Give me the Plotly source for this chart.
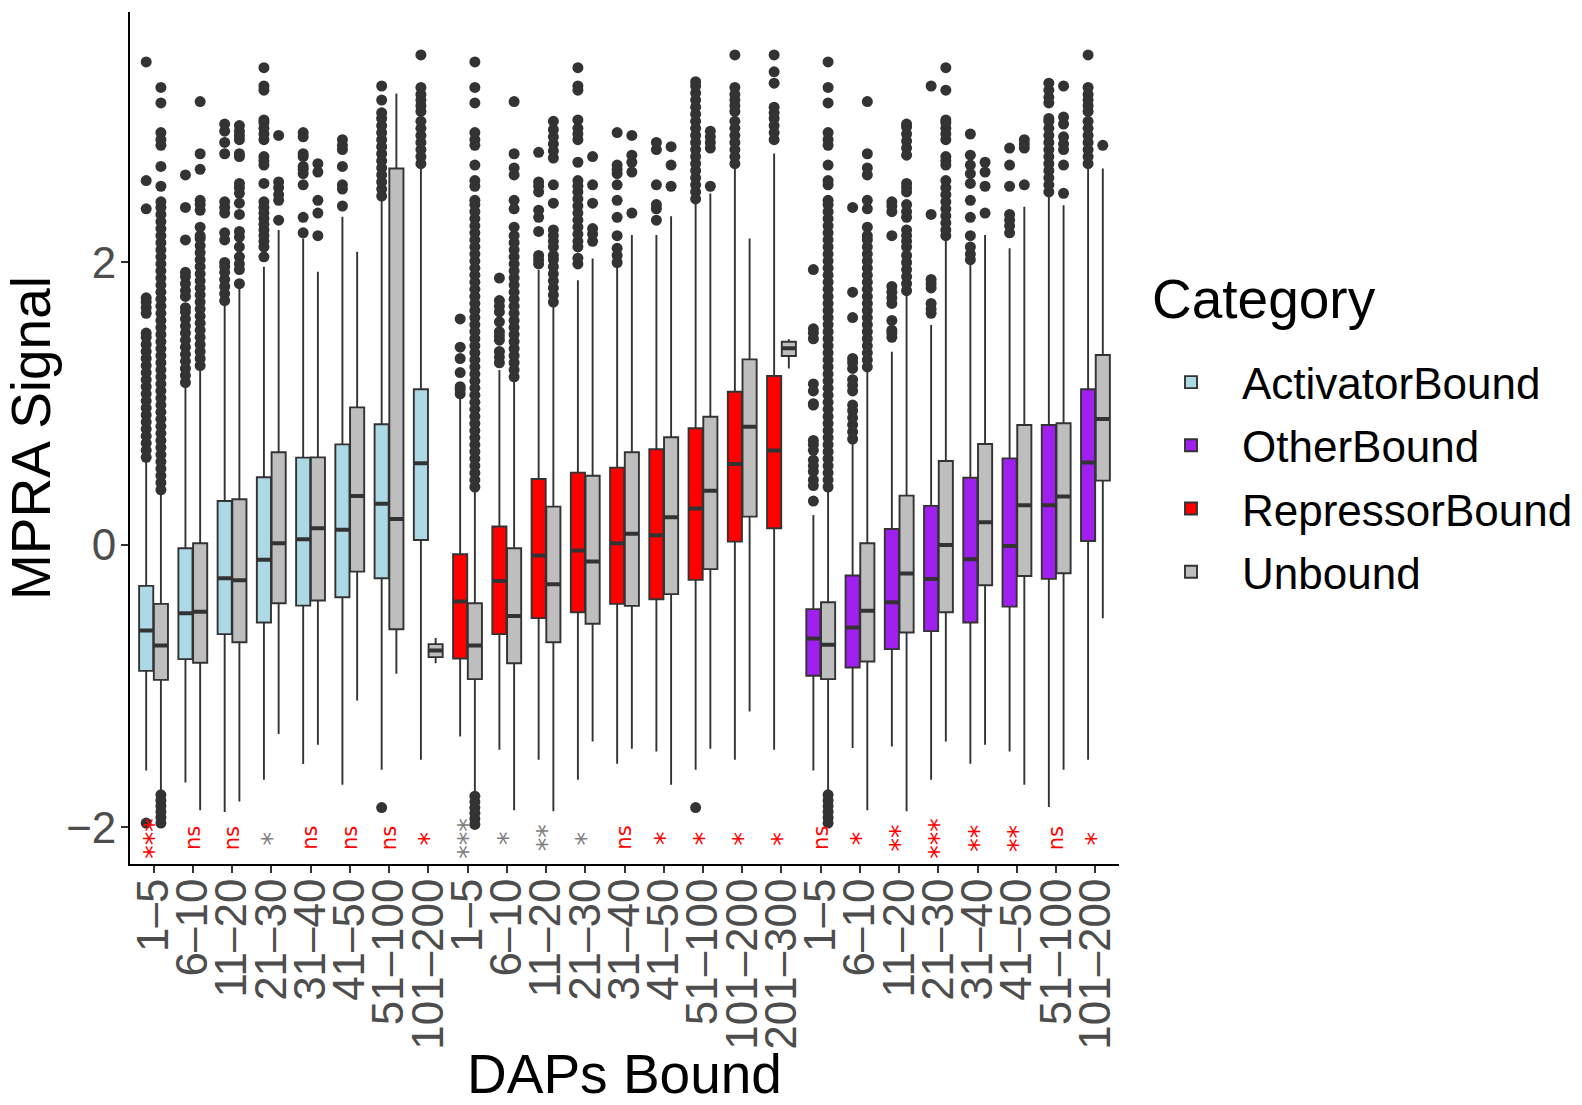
import plotly.graph_objects as go

# ---- categories -------------------------------------------------------------
bins_act = ["1–5", "6–10", "11–20", "21–30", "31–40", "41–50", "51–100", "101–200"]
bins_rep = ["1–5", "6–10", "11–20", "21–30", "31–40", "41–50", "51–100", "101–200", "201–300"]
bins_oth = ["1–5", "6–10", "11–20", "21–30", "31–40", "41–50", "51–100", "101–200"]
tick_labels = bins_act + bins_rep + bins_oth

# ---- box statistics: bound sets --------------------------------------------
act_q1 = [-0.892, -0.809, -0.632, -0.550, -0.430, -0.371, -0.236, 0.035]
act_med = [-0.606, -0.484, -0.236, -0.106, 0.040, 0.108, 0.292, 0.578]
act_q3 = [-0.290, -0.024, 0.311, 0.479, 0.618, 0.712, 0.854, 1.102]
act_lo = [-1.597, -1.682, -1.892, -1.663, -1.552, -1.699, -1.592, -1.522]
act_hi = [0.590, 1.130, 1.710, 1.970, 2.170, 2.324, 2.453, 2.677]

rep_q1 = [-0.805, -0.632, -0.519, -0.477, -0.418, -0.385, -0.248, 0.023, 0.118]
rep_med = [-0.401, -0.255, -0.076, -0.040, 0.012, 0.068, 0.257, 0.573, 0.668]
rep_q3 = [-0.066, 0.130, 0.467, 0.512, 0.547, 0.677, 0.826, 1.085, 1.196]
rep_lo = [-1.357, -1.451, -1.522, -1.663, -1.550, -1.463, -1.592, -1.522, -1.451]
rep_hi = [1.050, 1.239, 1.946, 1.875, 1.993, 2.194, 2.430, 2.677, 2.772]

oth_q1 = [-0.927, -0.868, -0.738, -0.611, -0.550, -0.437, -0.241, 0.028]
oth_med = [-0.663, -0.585, -0.406, -0.241, -0.102, -0.007, 0.281, 0.583]
oth_q3 = [-0.455, -0.217, 0.113, 0.276, 0.476, 0.613, 0.849, 1.102]
oth_lo = [-1.597, -1.439, -1.427, -1.663, -1.550, -1.463, -1.857, -1.522]
oth_hi = [0.212, 0.743, 1.368, 1.557, 2.005, 2.100, 2.477, 2.677]

# ---- box statistics: unbound comparison (one per bin, all 25 bins) ----------
unb_q1 = [-0.956, -0.835, -0.689, -0.413, -0.394, -0.189, -0.597, -0.795,
          -0.951, -0.838, -0.689, -0.559, -0.432, -0.349, -0.172, 0.200, 1.338,
          -0.951, -0.826, -0.621, -0.477, -0.286, -0.220, -0.201, 0.455]
unb_med = [-0.713, -0.474, -0.250, 0.012, 0.118, 0.347, 0.184, -0.748,
           -0.713, -0.503, -0.278, -0.118, 0.078, 0.196, 0.384, 0.837, 1.392,
           -0.708, -0.467, -0.203, 0.000, 0.160, 0.281, 0.342, 0.892]
unb_q3 = [-0.418, 0.012, 0.323, 0.656, 0.620, 0.974, 2.666, -0.703,
          -0.413, -0.024, 0.271, 0.490, 0.656, 0.762, 0.908, 1.314, 1.439,
          -0.406, 0.012, 0.349, 0.594, 0.715, 0.849, 0.861, 1.345]
unb_lo = [-1.746, -1.880, -1.817, -1.340, -1.416, -1.102, -0.913, -0.838,
          -1.757, -1.880, -1.887, -1.392, -1.444, -1.699, -1.444, -1.180, 1.250,
          -1.746, -1.880, -1.887, -1.392, -1.416, -1.699, -1.592, -0.519]
unb_hi = [0.366, 1.250, 1.852, 2.230, 1.935, 2.076, 3.196, -0.660,
          0.389, 1.168, 1.698, 2.029, 2.194, 2.328, 2.489, 2.170, 1.456,
          0.394, 1.239, 1.781, 2.182, 2.194, 2.394, 2.406, 2.666]

# ---- outliers (per bin) -----------------------------------------------------
act_out = [
    [-1.97, 0.62, 0.67, 0.72, 0.77, 0.82, 0.87, 0.92, 0.97, 1.02, 1.07, 1.12, 1.17,
     1.22, 1.27, 1.32, 1.37, 1.42, 1.47, 1.50, 1.64, 1.68, 1.72, 1.75, 2.38, 2.58, 3.42],
    [1.15, 1.20, 1.25, 1.30, 1.35, 1.40, 1.45, 1.50, 1.55, 1.60, 1.65, 1.68, 1.76,
     1.80, 1.85, 1.90, 1.93, 2.16, 2.39, 2.62],
    [1.73, 1.78, 1.83, 1.88, 1.93, 1.97, 2.00, 2.16, 2.21, 2.35, 2.39, 2.43, 2.77,
     2.85, 2.93, 2.98],
    [2.04, 2.11, 2.15, 2.19, 2.23, 2.27, 2.31, 2.35, 2.39, 2.43, 2.56, 2.69, 2.72,
     2.75, 2.87, 2.91, 2.95, 2.99, 3.01, 3.22, 3.25, 3.38],
    [2.21, 2.32, 2.55, 2.63, 2.66, 2.68, 2.75, 2.77, 2.89, 2.92],
    [2.40, 2.52, 2.55, 2.68, 2.80, 2.83, 2.87],
    [-1.86, 2.47, 2.52, 2.57, 2.62, 2.67, 2.72, 2.77, 2.82, 2.87, 2.92, 2.97, 3.02,
     3.06, 3.15, 3.25],
    [2.70, 2.75, 2.80, 2.85, 2.90, 2.95, 3.00, 3.07, 3.11, 3.15, 3.19, 3.24, 3.47],
]
rep_out = [
    [1.07, 1.10, 1.12, 1.22, 1.32, 1.40, 1.60],
    [1.29, 1.33, 1.37, 1.45, 1.48, 1.51, 1.58, 1.65, 1.69, 1.73, 1.89],
    [1.99, 2.02, 2.05, 2.22, 2.32, 2.37, 2.50, 2.54, 2.57, 2.78],
    [1.99, 2.03, 2.11, 2.15, 2.20, 2.25, 2.30, 2.35, 2.40, 2.45, 2.50, 2.54, 2.58,
     2.71, 2.87, 2.91, 2.95, 3.01, 3.22, 3.25, 3.38],
    [2.00, 2.05, 2.10, 2.19, 2.32, 2.44, 2.55, 2.63, 2.66, 2.69, 2.92],
    [2.30, 2.38, 2.41, 2.55, 2.80, 2.85],
    [-1.86, 2.45, 2.50, 2.55, 2.60, 2.65, 2.70, 2.75, 2.80, 2.85, 2.90, 2.95, 3.00,
     3.05, 3.10, 3.15, 3.20, 3.25, 3.28],
    [2.70, 2.75, 2.80, 2.85, 2.90, 2.95, 3.00, 3.07, 3.11, 3.15, 3.19, 3.24, 3.47],
    [2.87, 2.92, 2.97, 3.02, 3.06, 3.10, 3.27, 3.35, 3.47],
]
oth_out = [
    [0.31, 0.42, 0.46, 0.52, 0.56, 0.60, 0.67, 0.71, 0.74, 0.99, 1.00, 1.09, 1.14,
     1.46, 1.50, 1.53, 1.95],
    [0.75, 0.80, 0.85, 0.90, 0.95, 0.99, 1.09, 1.13, 1.17, 1.25, 1.29, 1.32, 1.61,
     1.79, 2.39],
    [1.47, 1.50, 1.52, 1.59, 1.71, 1.75, 1.79, 1.83, 2.19, 2.36, 2.40, 2.43],
    [1.64, 1.67, 1.71, 1.82, 1.85, 1.88, 2.34, 3.25],
    [2.02, 2.06, 2.11, 2.19, 2.32, 2.44, 2.56, 2.63, 2.69, 2.76, 2.91],
    [2.21, 2.26, 2.30, 2.34, 2.54, 2.69, 2.81],
    [2.50, 2.55, 2.60, 2.65, 2.70, 2.75, 2.80, 2.85, 2.90, 2.95, 3.00, 3.02, 3.13,
     3.17, 3.22, 3.27],
    [2.70, 2.75, 2.80, 2.85, 2.90, 2.95, 3.00, 3.07, 3.11, 3.15, 3.19, 3.24, 3.47],
]
unb_out = [
    [-1.77, -1.81, -1.85, -1.89, -1.93, -1.97, 0.39, 0.44, 0.49, 0.54, 0.59, 0.64,
     0.69, 0.74, 0.79, 0.84, 0.89, 0.94, 0.99, 1.04, 1.09, 1.14, 1.19, 1.24, 1.29,
     1.34, 1.39, 1.44, 1.49, 1.54, 1.59, 1.64, 1.69, 1.74, 1.79, 1.84, 1.89, 1.94,
     1.99, 2.04, 2.09, 2.14, 2.19, 2.24, 2.29, 2.34, 2.39, 2.43, 2.54, 2.68, 2.83,
     2.87, 2.92, 3.13, 3.24],
    [1.27, 1.32, 1.37, 1.42, 1.47, 1.52, 1.57, 1.62, 1.67, 1.72, 1.77, 1.82, 1.87,
     1.92, 1.97, 2.02, 2.07, 2.12, 2.17, 2.19, 2.25, 2.37, 2.41, 2.44, 2.66, 2.77, 3.14],
    [1.85, 1.95, 1.99, 2.04, 2.11, 2.18, 2.22, 2.34, 2.42, 2.49, 2.53, 2.56, 2.75,
     2.77, 2.87, 2.90, 2.93, 2.97],
    [2.30, 2.44, 2.48, 2.53, 2.57, 2.90],
    [2.19, 2.35, 2.44, 2.64, 2.70],
    [],
    [],
    [],
    [-1.78, -1.82, -1.86, -1.90, -1.94, -1.98, 0.41, 0.46, 0.51, 0.56, 0.61, 0.66,
     0.71, 0.76, 0.81, 0.86, 0.91, 0.96, 1.01, 1.06, 1.11, 1.16, 1.21, 1.26, 1.31,
     1.36, 1.41, 1.46, 1.51, 1.56, 1.61, 1.66, 1.71, 1.76, 1.81, 1.86, 1.91, 1.96,
     2.01, 2.06, 2.11, 2.16, 2.21, 2.26, 2.31, 2.36, 2.41, 2.44, 2.54, 2.58, 2.69,
     2.83, 2.87, 2.92, 3.13, 3.24, 3.42],
    [1.19, 1.24, 1.29, 1.34, 1.39, 1.44, 1.49, 1.54, 1.59, 1.64, 1.69, 1.74, 1.79,
     1.84, 1.89, 1.94, 1.99, 2.04, 2.09, 2.14, 2.19, 2.25, 2.38, 2.44, 2.62, 2.67,
     2.77, 3.14],
    [1.72, 1.77, 1.82, 1.87, 1.92, 1.97, 2.02, 2.05, 2.11, 2.15, 2.19, 2.23, 2.42,
     2.55, 2.74, 2.79, 2.84, 2.89, 2.94, 3.00],
    [2.15, 2.20, 2.24, 2.42, 2.55, 2.75],
    [2.35, 2.64, 2.71, 2.76, 2.90],
    [2.54, 2.69, 2.82],
    [2.54, 2.81, 2.85, 2.89, 2.93],
    [],
    [],
    [-1.77, -1.81, -1.85, -1.89, -1.93, -1.97, 0.41, 0.46, 0.51, 0.56, 0.61, 0.66,
     0.71, 0.76, 0.81, 0.86, 0.91, 0.96, 1.01, 1.06, 1.11, 1.16, 1.21, 1.26, 1.31,
     1.36, 1.41, 1.46, 1.51, 1.56, 1.61, 1.66, 1.71, 1.76, 1.81, 1.86, 1.91, 1.96,
     2.01, 2.06, 2.11, 2.16, 2.21, 2.26, 2.31, 2.36, 2.41, 2.44, 2.55, 2.58, 2.69,
     2.83, 2.87, 2.92, 3.13, 3.24, 3.42],
    [1.26, 1.31, 1.36, 1.41, 1.46, 1.51, 1.56, 1.61, 1.66, 1.71, 1.76, 1.81, 1.86,
     1.91, 1.96, 2.01, 2.06, 2.11, 2.16, 2.19, 2.25, 2.38, 2.44, 2.62, 2.67, 2.77, 3.14],
    [1.80, 1.85, 1.90, 1.95, 2.00, 2.05, 2.11, 2.15, 2.19, 2.23, 2.32, 2.36, 2.41,
     2.50, 2.53, 2.56, 2.76, 2.81, 2.86, 2.91, 2.96, 2.98],
    [2.19, 2.23, 2.28, 2.33, 2.38, 2.43, 2.48, 2.53, 2.58, 2.69, 2.72, 2.75, 2.87,
     2.91, 2.95, 2.99, 3.01, 3.22, 3.38],
    [2.35, 2.54, 2.64, 2.71],
    [2.55, 2.81, 2.84, 2.87],
    [2.49, 2.69, 2.80, 2.84, 2.89, 2.98, 3.03, 3.25],
    [2.83],
]

# ---- significance of bound vs unbound per bin -------------------------------
sig_labels = ["***", "ns", "ns", "*", "ns", "ns", "ns", "*",
              "***", "*", "**", "*", "ns", "*", "*", "*", "*",
              "ns", "*", "**", "***", "**", "**", "ns", "*"]
sig_higher = ["bound", "bound", "bound", "unbound", "bound", "bound", "bound", "bound",
              "unbound", "unbound", "unbound", "unbound", "bound", "bound", "bound", "bound", "bound",
              "bound", "bound", "bound", "bound", "bound", "bound", "bound", "bound"]

# ---- styling ----------------------------------------------------------------
FONT = "Liberation Sans, Arial, Helvetica, sans-serif"
EDGE = "#333333"
DODGE = 0.1875
BOX_W = 0.36

# page / plot-area pixel geometry
W, H = 1582, 1105
ML, MR, MT, MB = 130, 463, 12, 241
PW, PH = W - ML - MR, H - MT - MB


def px_x(p):
    return (p - ML) / PW


def px_y(p):
    return (H - MB - p) / PH


n_act, n_rep = len(bins_act), len(bins_rep)
idx_act = list(range(n_act))
idx_rep = list(range(n_act, n_act + n_rep))
idx_oth = list(range(n_act + n_rep, len(tick_labels)))
idx_all = list(range(len(tick_labels)))

groups = [
    ("ActivatorBound", "#ADD8E6", idx_act, act_q1, act_med, act_q3, act_lo, act_hi, act_out, -DODGE, 1),
    ("OtherBound", "#A020F0", idx_oth, oth_q1, oth_med, oth_q3, oth_lo, oth_hi, oth_out, -DODGE, 2),
    ("RepressorBound", "#FF0000", idx_rep, rep_q1, rep_med, rep_q3, rep_lo, rep_hi, rep_out, -DODGE, 3),
    ("Unbound", "#BEBEBE", idx_all, unb_q1, unb_med, unb_q3, unb_lo, unb_hi, unb_out, DODGE, 4),
]

fig = go.Figure()

for name, color, idx, q1, med, q3, lo, hi, outs, off, rank in groups:
    pos = [i + off for i in idx]
    # outlying points
    ox, oy = [], []
    for p, vals in zip(pos, outs):
        ox += [p] * len(vals)
        oy += vals
    fig.add_trace(go.Scatter(
        x=ox, y=oy, mode="markers",
        marker=dict(color=EDGE, size=11, line=dict(width=0)),
        showlegend=False, hoverinfo="skip",
    ))
    # boxes and whiskers
    fig.add_trace(go.Box(
        x=pos, q1=q1, median=med, q3=q3, lowerfence=lo, upperfence=hi,
        name=name, legendrank=rank, legendgroup=name,
        width=BOX_W, whiskerwidth=0,
        boxpoints=False, fillcolor=color,
        line=dict(color=EDGE, width=1.9),
    ))
    # heavier median bar
    fig.add_trace(go.Box(
        x=pos, q1=med, median=med, q3=med, lowerfence=med, upperfence=med,
        width=BOX_W, whiskerwidth=0, boxpoints=False,
        fillcolor="rgba(0,0,0,0)", line=dict(color=EDGE, width=4),
        showlegend=False, hoverinfo="skip",
    ))

for i, (lab, hi_side) in enumerate(zip(sig_labels, sig_higher)):
    fig.add_annotation(
        x=i, y=-2.077, xref="x", yref="y", text=lab, textangle=-90,
        showarrow=False,
        font=dict(family="DejaVu Sans", size=21 if lab == "ns" else 27,
                  color="#FF0000" if hi_side == "bound" else "#808080"),
    )

# legend heading
fig.add_annotation(
    x=px_x(1150), y=px_y(299), xref="paper", yref="paper",
    xanchor="left", yanchor="middle", showarrow=False,
    text="Category", font=dict(size=55, family=FONT, color="black"),
)

fig.update_layout(
    width=W, height=H, autosize=False,
    margin=dict(l=ML, r=MR, t=MT, b=MB),
    plot_bgcolor="white", paper_bgcolor="white",
    boxmode="overlay",
    font=dict(family=FONT, color="black"),
    showlegend=True,
    legend=dict(
        font=dict(size=44, family=FONT, color="black"),
        xref="container", yref="container",
        x=1140 / W, xanchor="left", y=(H - 347) / H, yanchor="top",
        bgcolor="rgba(0,0,0,0)", traceorder="grouped", tracegroupgap=3,
        itemwidth=92,
    ),
    xaxis=dict(
        range=[-0.6, len(tick_labels) - 0.4],
        tickmode="array", tickvals=idx_all, ticktext=tick_labels,
        tickangle=-90, ticks="outside", ticklen=7, tickwidth=1.5, tickcolor=EDGE,
        ticklabelstandoff=-12,
        tickfont=dict(size=44, color="#4D4D4D", family=FONT),
        showline=True, linecolor="black", linewidth=1.8,
        showgrid=False, zeroline=False, automargin=False,
        title=dict(text="DAPs Bound", font=dict(size=55, color="black", family=FONT), standoff=13),
    ),
    yaxis=dict(
        range=[-2.26, 3.774],
        tickmode="array", tickvals=[-2, 0, 2], ticktext=["−2", "0", "2"],
        ticks="outside", ticklen=7, tickwidth=1.5, tickcolor=EDGE,
        ticklabelstandoff=-4,
        tickfont=dict(size=44, color="#4D4D4D", family=FONT),
        showline=True, linecolor="black", linewidth=1.8,
        showgrid=False, zeroline=False, automargin=False,
        title=dict(text="MPRA Signal", font=dict(size=55, color="black", family=FONT), standoff=14),
    ),
)

fig.write_html("out.html")
